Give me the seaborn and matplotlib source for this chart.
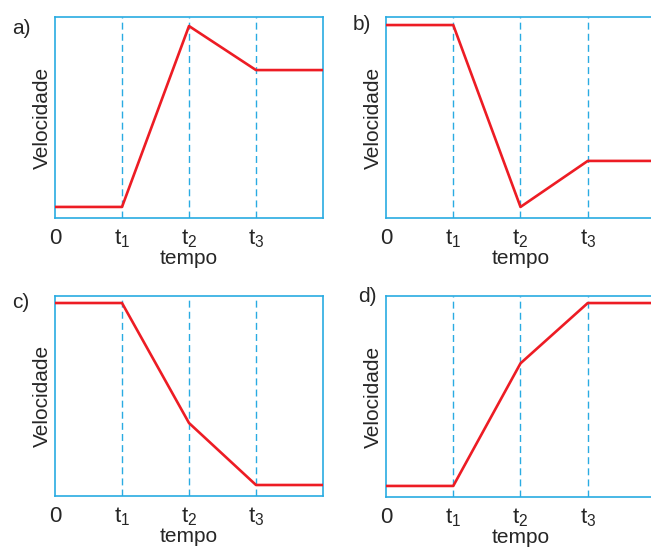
import matplotlib
matplotlib.use('Agg')
import matplotlib.pyplot as plt
import seaborn as sns
import pandas as pd

# Shape of the velocity curves (0 = bottom of box, 1 = top)
tempo = [0, 1, 2, 3, 4]
vel_a = [0.055, 0.055, 0.955, 0.736, 0.736]
vel_b = [0.960, 0.960, 0.055, 0.284, 0.284]
vel_c = [0.965, 0.965, 0.365, 0.055, 0.055]
vel_d = [0.055, 0.055, 0.665, 0.965, 0.965]
marcas = [1, 2, 3]
rotulos = ['0', r'$\mathregular{t_1}$', r'$\mathregular{t_2}$', r'$\mathregular{t_3}$']
letras = ['a)', 'b)', 'c)', 'd)']

sns.set_style('white')
plt.rcParams['font.family'] = ['Liberation Sans', 'DejaVu Sans']
plt.rcParams['mathtext.fontset'] = 'custom'
plt.rcParams['mathtext.rm'] = 'Liberation Sans'

azul = '#29abe2'
vermelho = '#ed1c24'

W, H = 651, 548
fig = plt.figure(figsize=(W / 100, H / 100), dpi=100)

# panel boxes in pixels: left, top, right, bottom
caixas = [(55, 17, 323, 218), (386, 17, 655, 218),
          (55, 296, 323, 496), (386, 296, 655, 497)]
pos_letra = [(12, 28), (353, 25), (12, 303), (358, 297)]
series = [vel_a, vel_b, vel_c, vel_d]

for caixa, vel, letra, pl in zip(caixas, series, letras, pos_letra):
    l, t, r, b = caixa
    ax = fig.add_axes([l / W, 1 - b / H, (r - l) / W, (b - t) / H])
    df = pd.DataFrame({'tempo': tempo, 'Velocidade': vel})
    for m in marcas:
        ax.axvline(m, color=azul, lw=1.0, ls=(0, (5, 3)), zorder=1)
    sns.lineplot(data=df, x='tempo', y='Velocidade', ax=ax, color=vermelho,
                 lw=1.9, zorder=3)
    ax.set_xlim(0, 4)
    ax.set_ylim(0, 1)
    ax.set_xticks([0] + marcas)
    ax.set_xticklabels(rotulos, fontsize=16)
    ax.set_yticks([])
    ax.tick_params(axis='x', length=0, pad=7)
    ax.set_xlabel('tempo', fontsize=15, labelpad=-1)
    ax.set_ylabel('Velocidade', fontsize=15, labelpad=2)
    for s in ax.spines.values():
        s.set_color(azul)
        s.set_linewidth(1.2)
    fig.text(pl[0] / W, 1 - pl[1] / H, letra, fontsize=15, va='center', ha='left')

fig.savefig('out.png', dpi=100)
